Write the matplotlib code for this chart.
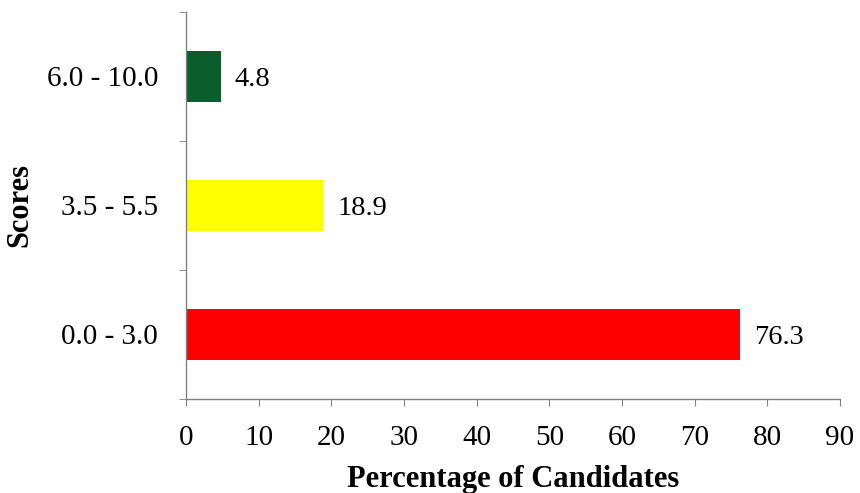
import matplotlib
matplotlib.use("Agg")
import matplotlib.pyplot as plt

# score bands and share of candidates in each band
score_bands = ["0.0 - 3.0", "3.5 - 5.5", "6.0 - 10.0"]
percentages = [76.3, 18.9, 4.8]
bar_colors = ["#ff0000", "#ffff00", "#0b5e2c"]

plt.rcParams["font.family"] = ["Liberation Serif", "DejaVu Serif"]

fig = plt.figure(figsize=(8.6, 4.93), dpi=100)
ax = fig.add_axes([0.2163, 0.1907, 0.7604, 0.785])

ypos = list(range(len(score_bands)))
bars = ax.barh(ypos, percentages, height=0.4, color=bar_colors)

for y, v in zip(ypos, percentages):
    ax.annotate(f"{v}", xy=(v, y), xytext=(10, -2), textcoords="offset points",
                va="center", ha="left", fontsize=20.5)

ax.set_xlim(0, 90)
ax.set_ylim(-0.5, len(score_bands) - 0.5)
ax.set_xticks(range(0, 91, 10))
ax.set_yticks(ypos)
ax.set_yticklabels(score_bands)
# tick marks sit between the bands, labels in the middle
ax.set_yticks([y - 0.5 for y in range(len(score_bands) + 1)], minor=True)

spine_col = "#808080"
for side in ["top", "right"]:
    ax.spines[side].set_visible(False)
for side in ["left", "bottom"]:
    ax.spines[side].set_color(spine_col)
    ax.spines[side].set_linewidth(1.0)

ax.tick_params(axis="y", which="major", length=0, pad=20, labelsize=21)
ax.tick_params(axis="y", which="minor", length=5, color=spine_col, direction="out")
ax.tick_params(axis="x", which="major", length=5, color=spine_col, direction="out",
               pad=14, labelsize=21)

ax.set_xlabel("Percentage of Candidates", fontsize=22, fontweight="bold", labelpad=10)
ax.set_ylabel("Scores", fontsize=22, fontweight="bold", labelpad=9)

fig.savefig("out.png", dpi=100)
